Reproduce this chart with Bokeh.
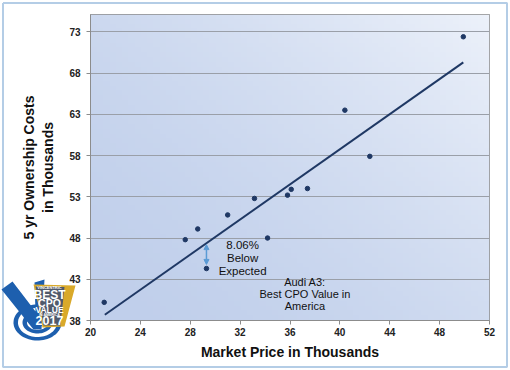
import numpy as np
from bokeh.plotting import figure
from bokeh.models import (Range1d, Label, Arrow, NormalHead, FixedTicker)
from bokeh.embed import file_html
from bokeh.resources import INLINE

# ---- data ----
price = [21.1, 27.6, 28.6, 29.3, 31.0, 33.15, 34.2, 35.8, 36.1, 37.4, 40.4, 42.4, 49.9]
cost = [40.2, 47.8, 49.1, 44.3, 50.8, 52.8, 48.0, 53.2, 53.9, 54.0, 63.5, 57.9, 72.4]
trend_x = [21.15, 49.9]
trend_y = [38.7, 69.3]
x_ticks = [20, 24, 28, 32, 36, 40, 44, 48, 52]
y_ticks = [38, 43, 48, 53, 58, 63, 68, 73]
arrow_x = 29.3
arrow_y = [47.2, 44.8]

W, H = 510, 370
FL, FT, FW, FH = 90, 14, 399, 306   # frame left/top/width/height on the page
FB = FT + FH
FONT = "Liberation Sans"
p = figure(width=W, height=H, frame_width=FW, frame_height=FH,
           output_backend="svg", toolbar_location=None,
           x_range=Range1d(20, 52), y_range=Range1d(38, 75.1),
           min_border_left=FL, min_border_right=W - FL - FW, min_border_top=FT,
           min_border_bottom=H - FB)

# gradient background
n = 64
GX, GY = np.meshgrid(np.linspace(0, 1, n), np.linspace(0, 1, n))
t = np.clip(0.55 * GX + 0.45 * GY, 0, 1) ** 1.6
c0 = np.array([192, 207, 235])
c1 = np.array([236, 241, 250])
rgb = c0[None, None, :] * (1 - t[..., None]) + c1[None, None, :] * t[..., None]
img = np.empty((n, n), dtype=np.uint32)
view = img.view(dtype=np.uint8).reshape((n, n, 4))
view[..., 0] = rgb[..., 0]
view[..., 1] = rgb[..., 1]
view[..., 2] = rgb[..., 2]
view[..., 3] = 255
xr, yr = p.x_range, p.y_range
p.image_rgba(image=[img], x=xr.start, y=yr.start, dw=xr.end - xr.start,
             dh=yr.end - yr.start, level="image")

p.background_fill_color = "#c8d6ee"
p.border_fill_color = "white"
p.outline_line_color = "#8c8c8c"
p.outline_line_width = 1

p.xgrid.grid_line_color = None
p.ygrid.grid_line_color = "#9a9fa8"
p.ygrid.grid_line_width = 1
p.ygrid.level = "underlay"

p.xaxis.ticker = FixedTicker(ticks=x_ticks)
p.yaxis.ticker = FixedTicker(ticks=y_ticks)
for ax in (p.xaxis[0], p.yaxis[0]):
    ax.axis_line_color = "#8c8c8c"
    ax.major_tick_line_color = "#8c8c8c"
    ax.major_tick_out = 4
    ax.major_tick_in = 0
    ax.minor_tick_line_color = None
    ax.major_label_text_font = FONT
    ax.major_label_text_font_style = "bold"
    ax.major_label_text_font_size = "10px"
    ax.major_label_text_color = "#222222"
    ax.axis_label_text_font = FONT
    ax.axis_label_text_font_style = "bold"
    ax.axis_label_text_font_size = "14px"
    ax.axis_label_text_color = "#111111"
p.xaxis.axis_label = "Market Price in Thousands"
p.yaxis.axis_label = "5 yr Ownership Costs\nin Thousands"
p.xaxis.major_label_standoff = 3
p.yaxis.major_label_standoff = 6
p.xaxis.axis_label_standoff = 5
p.yaxis.axis_label_standoff = 10

p.line(trend_x, trend_y, line_color="#1f3864", line_width=2)
p.scatter(price, cost, size=4.5, fill_color="#1f3864", line_color="#1f3864")

p.add_layout(Arrow(x_start=arrow_x, y_start=arrow_y[0], x_end=arrow_x, y_end=arrow_y[1],
                   line_color="#5b9bd5", line_width=1.5,
                   start=NormalHead(size=5, fill_color="#5b9bd5", line_color="#5b9bd5"),
                   end=NormalHead(size=5, fill_color="#5b9bd5", line_color="#5b9bd5")))

p.add_layout(Label(x=32.2, y=47.9, text="8.06%\nBelow\nExpected", text_align="center",
                   text_baseline="top", text_font=FONT, text_font_size="11.5px",
                   text_color="#111111", text_line_height=1.1))
p.add_layout(Label(x=37.2, y=43.35, text="Audi A3:\nBest CPO Value in\nAmerica", text_align="center",
                   text_baseline="top", text_font=FONT, text_font_size="11px",
                   text_color="#111111", text_line_height=1.0))

# ---- decoration overlay: outer frame line + badge, a transparent page-sized figure ----
o = figure(width=W, height=H, output_backend="svg", toolbar_location=None,
           x_range=Range1d(0, W), y_range=Range1d(H, 0),
           min_border=0, x_axis_type=None, y_axis_type=None)
o.grid.visible = False
o.outline_line_color = None
o.background_fill_color = None
o.border_fill_color = None
o.styles = {"position": "absolute", "left": "0px", "top": "0px", "z-index": "100",
            "pointer-events": "none"}

o.line([2.5, 506.5, 506.5, 2.5, 2.5], [2.5, 2.5, 366.5, 366.5, 2.5],
       line_color="#b4cde6", line_width=2)

BLUE = "#1d5fae"
ang = np.linspace(0, 2 * np.pi, 72)
cx, cy = 37, 322
for rx, ry, col in [(24, 18, BLUE), (19.5, 14.5, "white"), (15, 11, BLUE),
                    (10.5, 7.5, "white"), (6, 4.5, BLUE)]:
    o.patch(cx + rx * np.cos(ang), cy + ry * np.sin(ang), fill_color=col, line_color=None)
o.patch([1, 12, 35, 34, 44, 41, 33], [289, 281, 311, 282, 279, 329, 329],
        fill_color=BLUE, line_color=None)
o.patch([33, 75, 64, 42, 38], [284, 285, 326, 327, 305], fill_color="#d9a92a", line_color=None)
o.patch([35, 64, 60, 43, 39.5], [286, 286.5, 325, 325, 305], fill_color="#505a6b", line_color=None)
for txt, yy, fs in [("VINCENTRIC", 287.3, "4px"), ("BEST", 294, "12px"), ("CPO", 302.6, "10.5px"),
                    ("VALUE", 309.6, "8.5px"), ("IN AMERICA", 314, "3.5px"), ("2017", 320.2, "12.5px")]:
    o.add_layout(Label(x=49, y=yy, text=txt, text_align="center", text_baseline="middle",
                       text_font=FONT, text_font_style="bold", text_font_size=fs,
                       text_color="white"))

open("out.html", "w").write(file_html([p, o], INLINE))
